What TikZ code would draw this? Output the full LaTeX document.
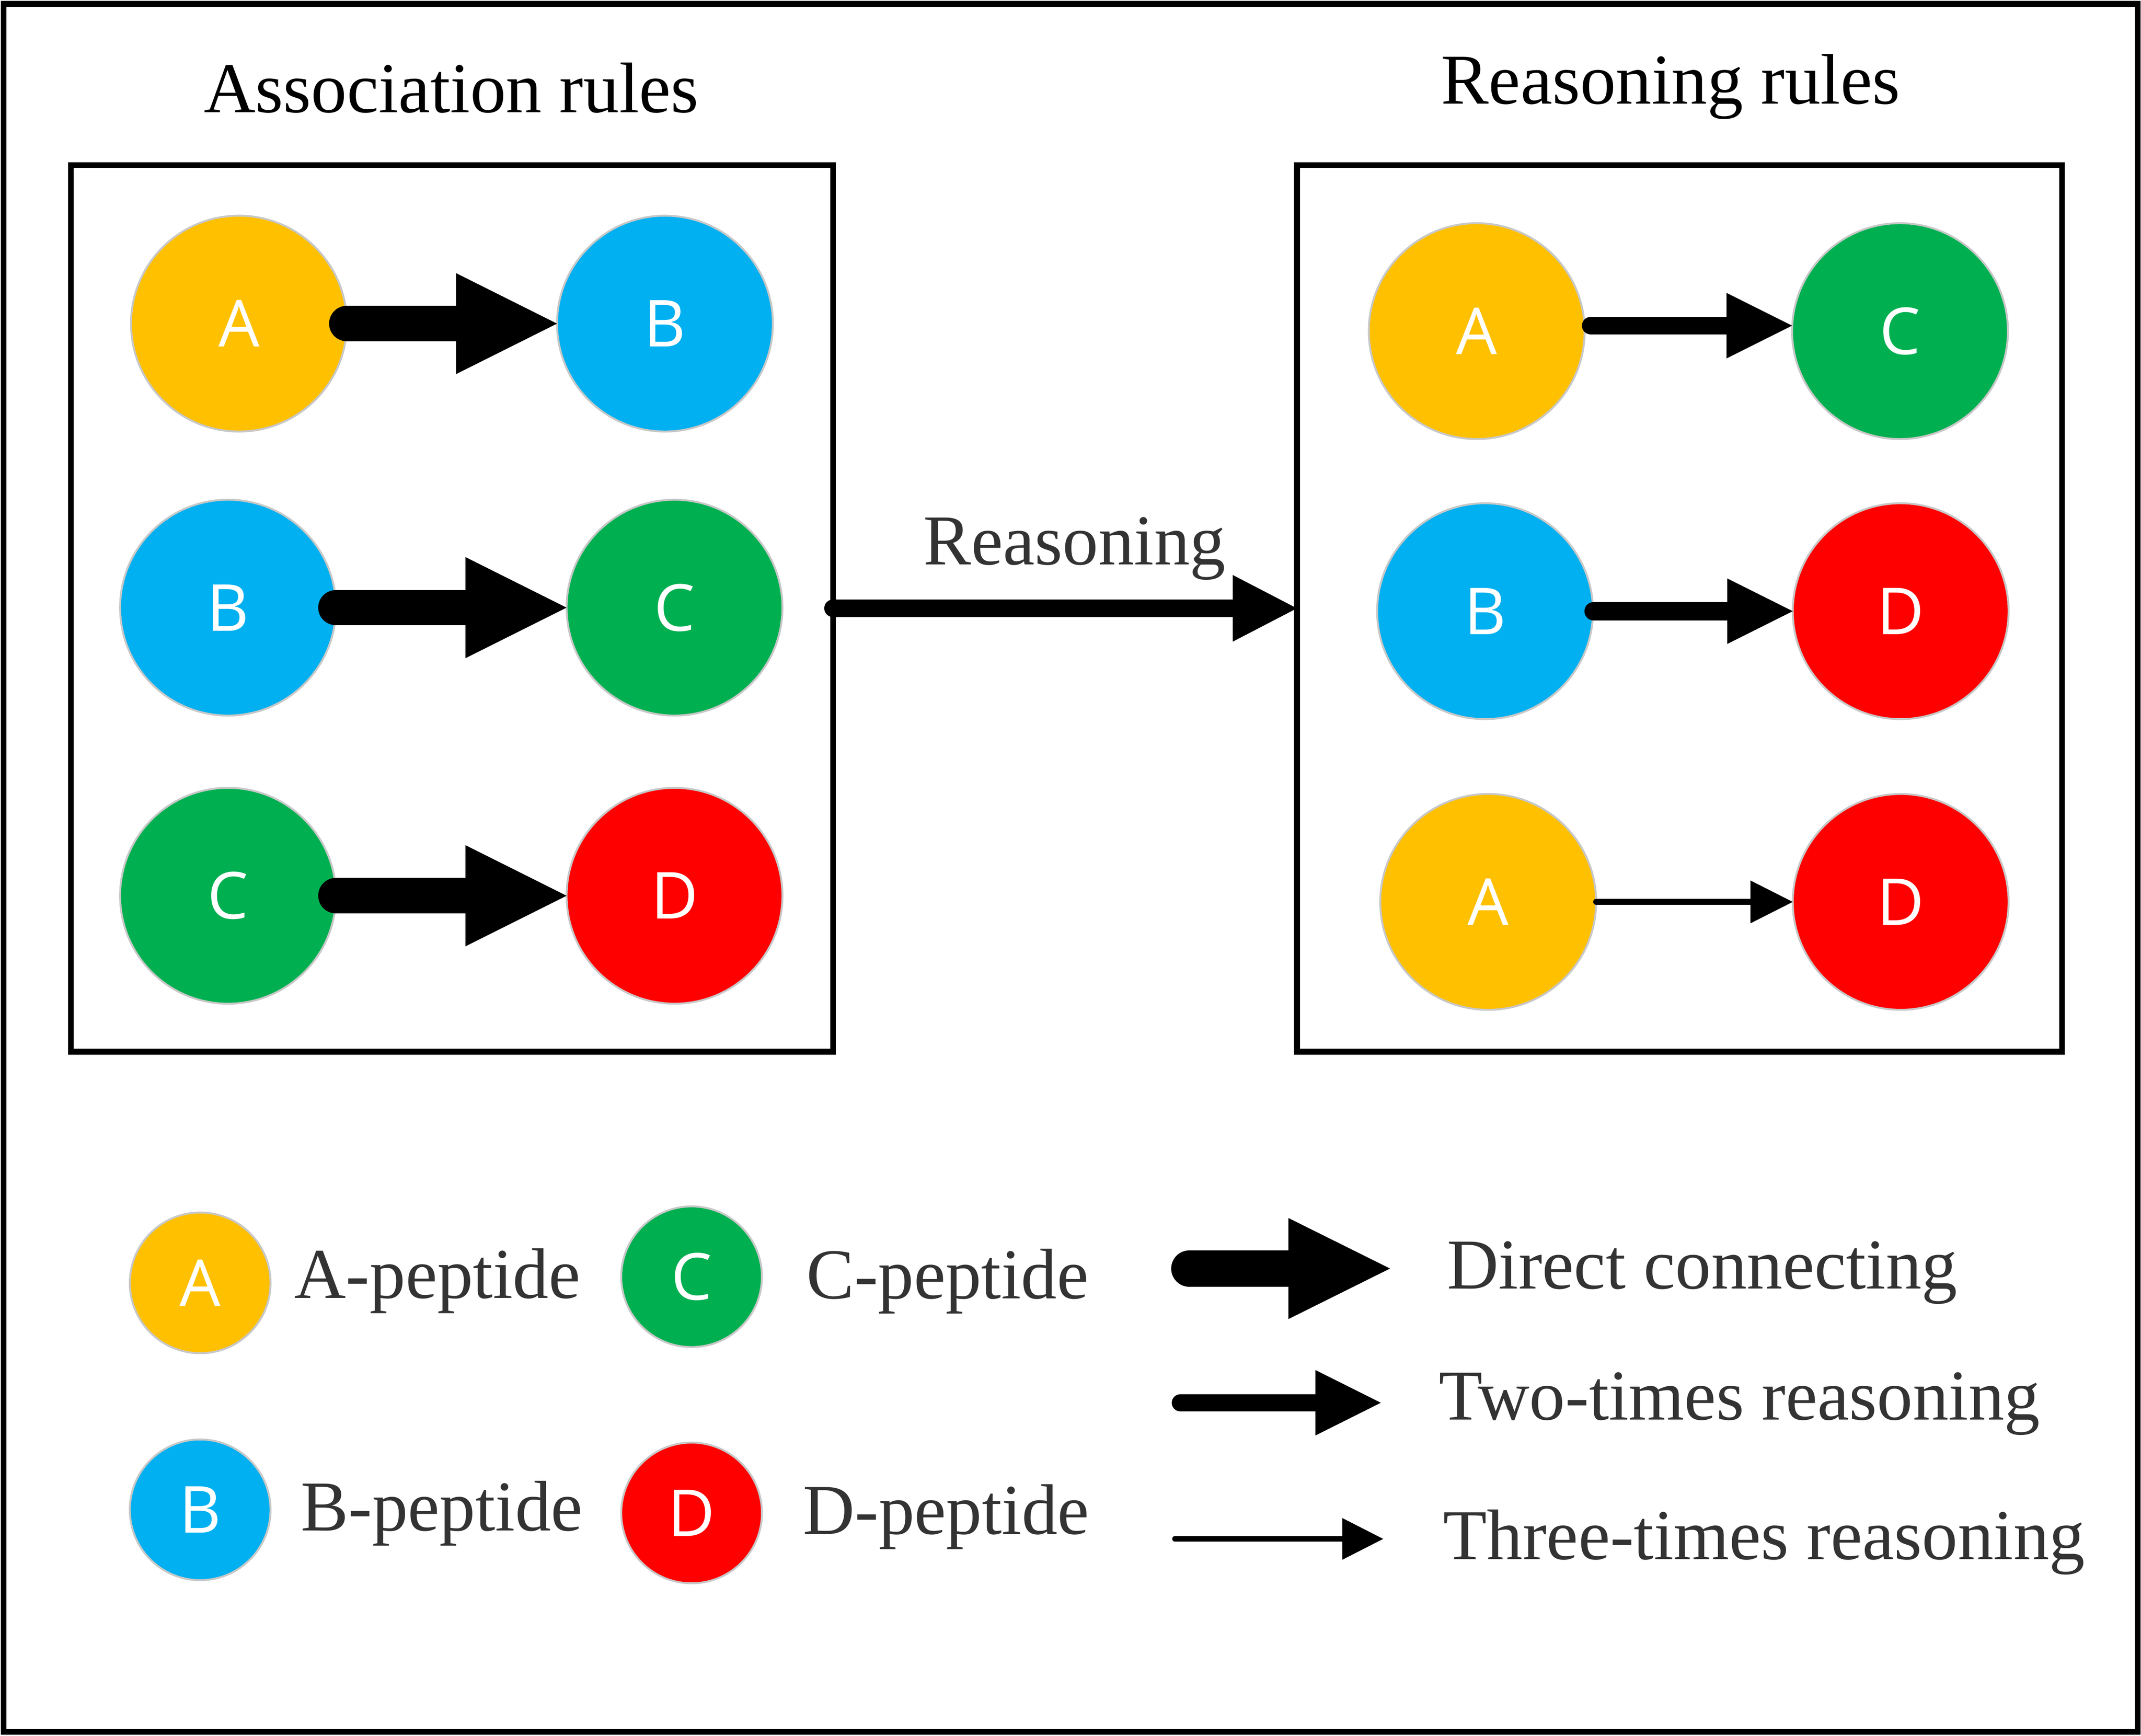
\documentclass[tikz,border=0pt]{standalone}
\usepackage{fontspec}
\setmainfont{Liberation Serif}
\newfontfamily\lettersf{Open Sans}
\usetikzlibrary{calc}
\definecolor{pepA}{HTML}{FFC000}
\definecolor{pepB}{HTML}{00B0F0}
\definecolor{pepC}{HTML}{00B050}
\definecolor{pepD}{HTML}{FF0000}
\definecolor{txtgray}{HTML}{333333}
\definecolor{rimgray}{HTML}{C8C8C8}
% #1 start coordinate, #2 tip coordinate, #3 shaft width, #4 head length, #5 head half width
\newcommand{\fatarrow}[5]{%
  \draw[line width=#3, line cap=round] (#1) -- ($(#2)+(-#4,0)$);
  \fill (#2) -- ($(#2)+(-#4,#5)$) -- ($(#2)+(-#4,-#5)$) -- cycle;}
\tikzset{
  pep/.style={circle, draw=rimgray, line width=0.4pt, inner sep=0pt, outer sep=0pt,
    text=white, font=\lettersf\fontsize{13.5}{16}\selectfont},
  bigpep/.style={pep, minimum size=1.58cm},
  smallpep/.style={pep, minimum size=1.03cm},
  rulebox/.style={draw=black, line width=0.042cm, inner sep=0pt, outer sep=0pt},
  title/.style={anchor=base, inner sep=0pt, text=black, font=\fontsize{14.9}{18}\selectfont},
  label/.style={anchor=base, inner sep=0pt, text=txtgray, font=\fontsize{14.9}{18}\selectfont},
}
\begin{document}
\begin{tikzpicture}[x=0.01cm, y=-0.01cm]
\useasboundingbox (0,0) rectangle (1568,1271.2);
\draw[line width=0.042cm] (2.6,2.8) rectangle (1565.6,1268.3);

% titles
\node[title] (t1) at (330.5,82.3) {Association rules};
\node[title] (t2) at (1223.5,76.2) {Reasoning rules};

% boxes
\node[rulebox, minimum width=5.58cm, minimum height=6.49cm] (L) at (331,445.5) {};
\node[rulebox, minimum width=5.60cm, minimum height=6.49cm] (R) at (1230,445.5) {};

% left box circles
\node[bigpep, fill=pepA] (LA1) at (175,237) {A};
\node[bigpep, fill=pepB] (LB1) at (487,237) {B};
\node[bigpep, fill=pepB] (LB2) at (167,445) {B};
\node[bigpep, fill=pepC] (LC2) at (494,445) {C};
\node[bigpep, fill=pepC] (LC3) at (167,656) {C};
\node[bigpep, fill=pepD] (LD3) at (494,656) {D};

\fatarrow{LA1.east}{LB1.west}{0.26cm}{74}{37}
\fatarrow{LB2.east}{LC2.west}{0.26cm}{74}{37}
\fatarrow{LC3.east}{LD3.west}{0.26cm}{74}{37}

% right box circles
\node[bigpep, fill=pepA] (RA1) at (1081.5,242.5) {A};
\node[bigpep, fill=pepC] (RC1) at (1391.5,242.5) {C};
\node[bigpep, fill=pepB] (RB2) at (1087.6,447.6) {B};
\node[bigpep, fill=pepD] (RD2) at (1392,447.6) {D};
\node[bigpep, fill=pepA] (RA3) at (1089.9,660.5) {A};
\node[bigpep, fill=pepD] (RD3) at (1392,660.5) {D};

\coordinate (r1s) at ($(RA1.east)+(4.5,-4)$);
\coordinate (r1t) at (r1s -| RC1.west);
\fatarrow{r1s}{r1t}{0.13cm}{48}{24}
\coordinate (r2s) at ($(RB2.east)+(0.5,0)$);
\fatarrow{r2s}{RD2.west}{0.135cm}{48}{24}
\fatarrow{RA3.east}{RD3.west}{0.043cm}{31}{15.7}

% reasoning arrow
\node[label] (reas) at (787,413.6) {Reasoning};
\fatarrow{L.east}{R.west}{0.13cm}{47}{24.4}

% legend
\node[smallpep, fill=pepA] (gA) at (146.6,939.5) {A};
\node[smallpep, fill=pepB] (gB) at (146.6,1105.7) {B};
\node[smallpep, fill=pepC] (gC) at (506.5,935) {C};
\node[smallpep, fill=pepD] (gD) at (506.5,1108) {D};
\node[label] (lA) at (320.3,950.8) {A-peptide};
\node[label] (lB) at (323.5,1121) {B-peptide};
\node[label] (lC) at (694,951) {C-peptide};
\node[label] (lD) at (693,1123.6) {D-peptide};

\coordinate (k1s) at (871,929);
\coordinate (k1t) at (1018,929);
\fatarrow{k1s}{k1t}{0.265cm}{74.4}{37}
\coordinate (k2s) at (864.5,1027.3);
\coordinate (k2t) at (1011.3,1027.3);
\fatarrow{k2s}{k2t}{0.127cm}{48}{24}
\coordinate (k3s) at (860.5,1127);
\coordinate (k3t) at (1013,1127);
\fatarrow{k3s}{k3t}{0.04cm}{30}{15.3}
\node[label] (l1) at (1246.6,943.8) {Direct connecting};
\node[label] (l2) at (1274,1039.6) {Two-times reasoning};
\node[label] (l3) at (1292,1142) {Three-times reasoning};
\end{tikzpicture}
\end{document}
